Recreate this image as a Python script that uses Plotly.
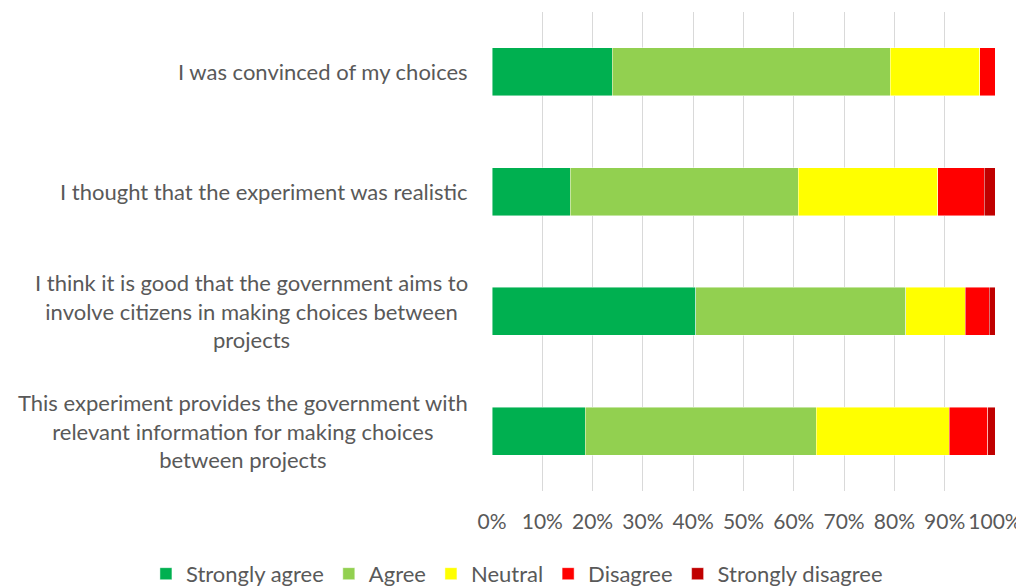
import plotly.graph_objects as go

categories = [
    "I was convinced of my choices",
    "I thought that the experiment was realistic",
    "I think it is good that the government aims to<br>involve citizens in making choices between<br>projects",
    "This experiment provides the government with<br>relevant information for making choices<br>between projects",
]
series_names = ["Strongly agree", "Agree", "Neutral", "Disagree", "Strongly disagree"]
strongly_agree = [23.9, 15.6, 40.5, 18.5]
agree = [55.3, 45.3, 41.8, 46.0]
neutral = [17.8, 27.7, 11.8, 26.4]
disagree = [3.0, 9.3, 4.8, 7.7]
strongly_disagree = [0.0, 2.1, 1.1, 1.4]
colors = ["#00B050", "#92D050", "#FFFF00", "#FF0000", "#C00000"]
x_ticks = [0, 10, 20, 30, 40, 50, 60, 70, 80, 90, 100]
x_tick_labels = [f"{v}%" for v in x_ticks]

FONT = "Lato"
GREY = "#595959"

fig = go.Figure()
for name, vals, col in zip(series_names,
                           [strongly_agree, agree, neutral, disagree, strongly_disagree],
                           colors):
    fig.add_trace(go.Bar(
        y=categories, x=vals, name=name, orientation="h",
        marker=dict(color=col, line=dict(color="rgba(255,255,255,0.6)", width=0.75)),
    ))

for c in categories:
    fig.add_annotation(
        x=0, xref="paper", y=c, yref="y", text=c, showarrow=False,
        xanchor="right", yanchor="middle", align="center", xshift=-22,
        font=dict(family=FONT, size=22, color=GREY),
    )

fig.update_layout(
    barmode="stack", bargap=0.6,
    width=1016, height=580,
    margin=dict(l=484, r=29, t=4, b=97, autoexpand=False),
    plot_bgcolor="white", paper_bgcolor="white",
    font=dict(family=FONT, size=21, color=GREY),
    legend=dict(orientation="h", xref="paper", yref="paper",
                x=-0.688, xanchor="left", y=-0.173, yanchor="middle",
                bgcolor="rgba(255,255,255,0)",
                font=dict(family=FONT, size=22, color=GREY),
                traceorder="normal", itemclick=False),
    xaxis=dict(range=[0, 100], tickmode="array", tickvals=x_ticks, ticktext=x_tick_labels,
               showgrid=True, gridcolor="#D9D9D9", gridwidth=1,
               zeroline=False, showline=False, ticklabelstandoff=16,
               tickfont=dict(family=FONT, size=21, color=GREY)),
    yaxis=dict(autorange="reversed", showticklabels=False, showgrid=False,
               zeroline=False, showline=False),
)

fig.write_html("out.html")
